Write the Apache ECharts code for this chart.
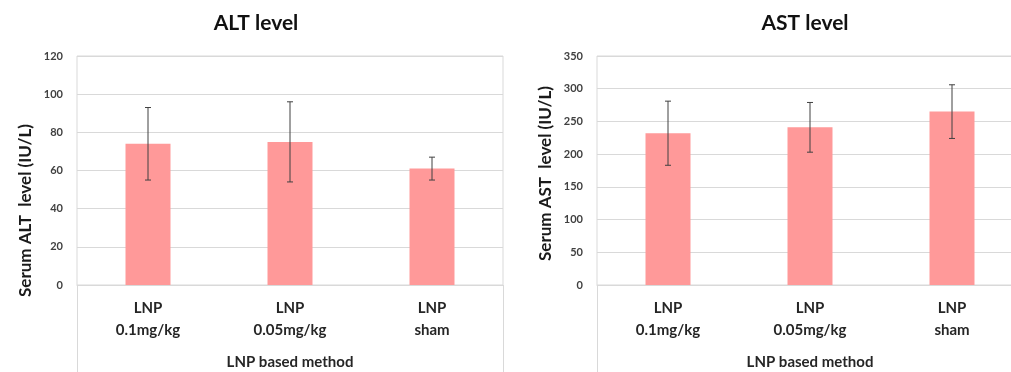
<!DOCTYPE html>
<html>
<head>
<meta charset="utf-8">
<script src="https://cdn.jsdelivr.net/npm/echarts@6/dist/echarts.min.js"></script>
<style>
  html, body { margin: 0; padding: 0; background: #fff; }
  #main { width: 1011px; height: 372px; }
</style>
</head>
<body>
<div id="main"></div>
<script>
// data
const categories = ['LNP\n0.1mg/kg', 'LNP\n0.05mg/kg', 'LNP\nsham'];
const altMean = [74, 75, 61];
const altErr = [19, 21, 6];
const astMean = [232, 241, 265];
const astErr = [49, 38, 41];

const FONT = 'Lato';
const gridColor = '#d9d9d9';
const barColor = '#ff9999';

// [index, low, high] for the error bars
function errData(mean, err) {
    return mean.map(function (m, i) { return [i, m - err[i], m + err[i]]; });
}

function renderErr(params, api) {
    const x = api.value(0);
    const lo = api.coord([x, api.value(1)]);
    const hi = api.coord([x, api.value(2)]);
    const cap = 3;
    const style = { stroke: '#404040', lineWidth: 1 };
    return {
        type: 'group',
        children: [
            { type: 'line', shape: { x1: hi[0], y1: hi[1], x2: lo[0], y2: lo[1] }, style: style },
            { type: 'line', shape: { x1: hi[0] - cap, y1: hi[1], x2: hi[0] + cap, y2: hi[1] }, style: style },
            { type: 'line', shape: { x1: lo[0] - cap, y1: lo[1], x2: lo[0] + cap, y2: lo[1] }, style: style }
        ]
    };
}

function xAxisFor(gi) {
    return {
        type: 'category',
        gridIndex: gi,
        data: categories,
        axisTick: { show: false },
        axisLine: { lineStyle: { color: gridColor } },
        axisLabel: { margin: 12, color: '#262626', fontFamily: FONT, fontWeight: 'bold', fontSize: 15, lineHeight: 22 },
        name: 'LNP based method',
        nameLocation: 'middle',
        nameGap: 70,
        nameTextStyle: { color: '#262626', fontFamily: FONT, fontWeight: 'bold', fontSize: 15 }
    };
}

function yAxisFor(gi, max, interval, name, pad) {
    return {
        type: 'value',
        gridIndex: gi,
        min: 0,
        max: max,
        interval: interval,
        axisLine: { show: false },
        axisTick: { show: false },
        splitLine: { lineStyle: { color: gridColor } },
        axisLabel: { margin: 14, color: '#404040', fontFamily: FONT, fontWeight: 'bold', fontSize: 11 },
        name: name,
        nameLocation: 'middle',
        nameGap: 43,
        nameTextStyle: { color: '#1a1a1a', fontFamily: FONT, fontWeight: 'bold', fontSize: 17, padding: pad }
    };
}

var myChart = echarts.init(document.getElementById('main'));

option = {
    animation: false,
    textStyle: { fontFamily: FONT },
    title: [
        { text: 'ALT level', left: 256, top: 13, textAlign: 'center', padding: 0,
          textStyle: { fontFamily: FONT, fontWeight: 'bold', fontSize: 21, color: '#111' } },
        { text: 'AST level', left: 805, top: 13, textAlign: 'center', padding: 0,
          textStyle: { fontFamily: FONT, fontWeight: 'bold', fontSize: 21, color: '#111' } }
    ],
    grid: [
        { left: 77, top: 56, width: 426, height: 229, show: true, borderColor: gridColor, borderWidth: 1,
          outerBoundsMode: 'none' },
        { left: 597, top: 56, width: 426, height: 229, show: true, borderColor: gridColor, borderWidth: 1,
          outerBoundsMode: 'none' }
    ],
    xAxis: [xAxisFor(0), xAxisFor(1)],
    yAxis: [
        yAxisFor(0, 120, 20, 'Serum ALT  level (IU/L)', [0, 80, 0, 0]),
        yAxisFor(1, 350, 50, 'Serum AST  level (IU/L)', [0, 6, 0, 0])
    ],
    // plot frame edges run down past the category labels
    graphic: [
        { type: 'line', shape: { x1: 77.5, y1: 285, x2: 77.5, y2: 372 }, style: { stroke: gridColor, lineWidth: 1 } },
        { type: 'line', shape: { x1: 503.5, y1: 285, x2: 503.5, y2: 372 }, style: { stroke: gridColor, lineWidth: 1 } },
        { type: 'line', shape: { x1: 597.5, y1: 285, x2: 597.5, y2: 372 }, style: { stroke: gridColor, lineWidth: 1 } }
    ],
    series: [
        { name: 'ALT', type: 'bar', xAxisIndex: 0, yAxisIndex: 0, data: altMean, barWidth: 45,
          itemStyle: { color: barColor } },
        { name: 'ALT err', type: 'custom', xAxisIndex: 0, yAxisIndex: 0, data: errData(altMean, altErr),
          renderItem: renderErr, z: 5 },
        { name: 'AST', type: 'bar', xAxisIndex: 1, yAxisIndex: 1, data: astMean, barWidth: 45,
          itemStyle: { color: barColor } },
        { name: 'AST err', type: 'custom', xAxisIndex: 1, yAxisIndex: 1, data: errData(astMean, astErr),
          renderItem: renderErr, z: 5 }
    ]
};
myChart.setOption(option);
</script>
</body>
</html>
